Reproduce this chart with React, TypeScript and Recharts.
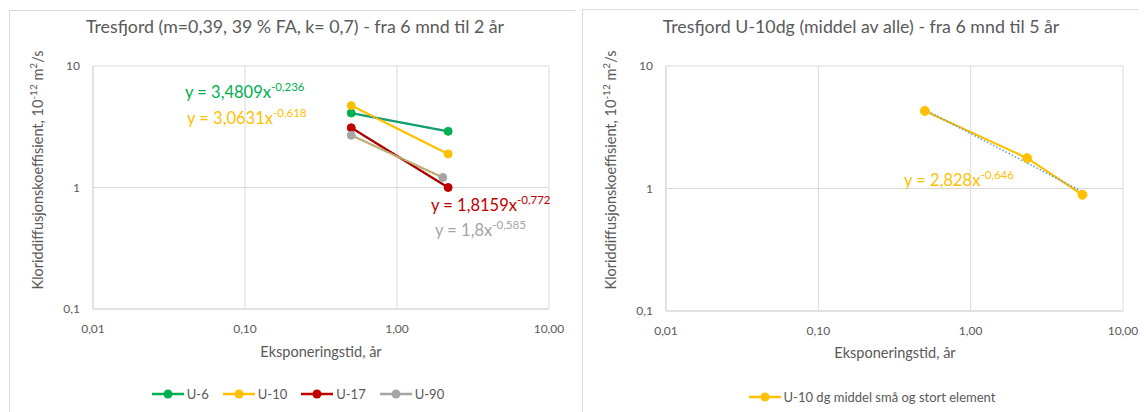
import React from "react";
import { ComposedChart, Line, XAxis, YAxis, CartesianGrid } from "recharts";

// log axes ticks
const xTicks = [0.01, 0.1, 1, 10];
const yTicks = [0.1, 1, 10];

// left chart: 6 mnd til 2 år
const u6 = [
  { x: 0.5, y: 4.1 },
  { x: 2.17, y: 2.9 },
];
const u10 = [
  { x: 0.5, y: 4.72 },
  { x: 2.17, y: 1.89 },
];
const u17 = [
  { x: 0.5, y: 3.1 },
  { x: 2.17, y: 1.0 },
];
const u90 = [
  { x: 0.5, y: 2.69 },
  { x: 2.0, y: 1.21 },
];

// right chart: middel av alle, 6 mnd til 5 år
const u10Mean = [
  { x: 0.5, y: 4.3 },
  { x: 2.35, y: 1.77 },
  { x: 5.42, y: 0.89 },
];
const u10MeanTrend = [
  { x: 0.5, y: 4.4 },
  { x: 5.42, y: 0.94 },
];

const FONT = "Lato, 'Open Sans', sans-serif";
const TEXT = "#595959";
const GRID = "#d9d9d9";

const leftSeries = [
  { name: "U-6", data: u6, color: "#00B050", trend: "#4472C4" },
  { name: "U-10", data: u10, color: "#FFC000", trend: "#FFC000" },
  { name: "U-17", data: u17, color: "#C00000", trend: "#7a0000" },
  { name: "U-90", data: u90, color: "#A5A5A5", trend: "#FFC000" },
];

const fmtX = (v: number) => v.toFixed(2).replace(".", ",");
const fmtY = (v: number) => String(v).replace(".", ",");

const tickStyle = { fontSize: 12, fill: TEXT, fontFamily: FONT };

function Axes() {
  return (
    <>
      <CartesianGrid stroke={GRID} strokeWidth={1} />
      <XAxis
        dataKey="x"
        type="number"
        scale="log"
        domain={[0.01, 10]}
        ticks={xTicks}
        allowDataOverflow
        tickFormatter={fmtX}
        tick={tickStyle}
        tickLine={false}
        tickSize={0}
        tickMargin={15}
        axisLine={{ stroke: GRID }}
        height={101}
      />
      <YAxis
        dataKey="y"
        type="number"
        scale="log"
        domain={[0.1, 10]}
        ticks={yTicks}
        allowDataOverflow
        tickFormatter={fmtY}
        tick={tickStyle}
        tickLine={false}
        tickSize={0}
        tickMargin={13}
        axisLine={{ stroke: GRID }}
        width={84}
      />
    </>
  );
}

function Equation({ x, y, color, base, exp }: { x: number; y: number; color: string; base: string; exp: string }) {
  return (
    <text x={x} y={y} fill={color} fontSize={16.5} fontFamily={FONT}>
      {base}
      <tspan dy={-7} fontSize={11.5}>
        {exp}
      </tspan>
    </text>
  );
}

function YLabel({ x, y }: { x: number; y: number }) {
  return (
    <text
      transform={`translate(${x},${y}) rotate(-90)`}
      textAnchor="middle"
      fill={TEXT}
      fontSize={14.5}
      fontFamily={FONT}
    >
      Kloriddiffusjonskoeffisient, 10
      <tspan dy={-6} fontSize={10}>
        -12
      </tspan>
      <tspan dy={6}> m</tspan>
      <tspan dy={-6} fontSize={10}>
        2
      </tspan>
      <tspan dy={6}>/s</tspan>
    </text>
  );
}

function LegendItem({ name, color }: { name: string; color: string }) {
  return (
    <div style={{ display: "flex", alignItems: "center", gap: 3 }}>
      <svg width={32} height={12}>
        <line x1={0} y1={6} x2={32} y2={6} stroke={color} strokeWidth={2.5} />
        <circle cx={16} cy={6} r={4.5} fill={color} />
      </svg>
      <span>{name}</span>
    </div>
  );
}

const legendStyle: React.CSSProperties = {
  position: "absolute",
  left: 0,
  width: "100%",
  display: "flex",
  justifyContent: "center",
  gap: 14,
  fontFamily: FONT,
  fontSize: 13,
  color: TEXT,
};

function LeftChart() {
  return (
    <div
      style={{
        position: "absolute",
        left: 1,
        top: 2,
        width: 566,
        height: 402,
        borderLeft: `1px solid ${GRID}`,
        borderTop: `1px solid ${GRID}`,
        boxSizing: "border-box",
      }}
    >
      <div style={{ position: "absolute", left: -1, top: -1 }}>
        <ComposedChart width={566} height={400} margin={{ top: 56, right: 26, left: 0, bottom: 0 }}>
          {Axes()}
          {leftSeries.map((s) => (
            <Line
              key={s.name}
              data={s.data}
              dataKey="y"
              name={s.name}
              stroke={s.color}
              strokeWidth={2.25}
              dot={{ r: 4, fill: s.color, stroke: s.color, strokeWidth: 1 }}
              isAnimationActive={false}
            />
          ))}
          {leftSeries.map((s) => (
            <Line
              key={s.name + "-trend"}
              data={s.data}
              dataKey="y"
              stroke={s.trend}
              strokeWidth={1.5}
              strokeDasharray="1.5 2"
              dot={false}
              legendType="none"
              isAnimationActive={false}
            />
          ))}
        </ComposedChart>
        <svg width={566} height={400} style={{ position: "absolute", left: 0, top: 0, pointerEvents: "none" }}>
          <text x={286} y={23} textAnchor="middle" fill={TEXT} fontSize={17.8} fontFamily={FONT}>
            Tresfjord (m=0,39, 39 % FA, k= 0,7) - fra 6 mnd til 2 år
          </text>
          <YLabel x={34} y={160} />
          <text x={312} y={347} textAnchor="middle" fill={TEXT} fontSize={14.5} fontFamily={FONT}>
            Eksponeringstid, år
          </text>
          <Equation x={176} y={88} color="#00B050" base="y = 3,4809x" exp="-0,236" />
          <Equation x={178} y={114} color="#FFC000" base="y = 3,0631x" exp="-0,618" />
          <Equation x={422} y={201} color="#C00000" base="y = 1,8159x" exp="-0,772" />
          <Equation x={426} y={226} color="#A5A5A5" base="y = 1,8x" exp="-0,585" />
        </svg>
        <div style={{ ...legendStyle, top: 376, paddingLeft: 12, boxSizing: "border-box" }}>
          {leftSeries.map((s) => (
            <LegendItem key={s.name} name={s.name} color={s.color} />
          ))}
        </div>
      </div>
    </div>
  );
}

function RightChart() {
  return (
    <div
      style={{
        position: "absolute",
        left: 574,
        top: 1,
        width: 564,
        height: 403,
        borderLeft: `1px solid ${GRID}`,
        borderTop: `1px solid ${GRID}`,
        boxSizing: "border-box",
      }}
    >
      <div style={{ position: "absolute", left: -1, top: -1 }}>
        <ComposedChart width={564} height={403} margin={{ top: 57, right: 23, left: 0, bottom: 0 }}>
          {Axes()}
          <Line
            data={u10Mean}
            dataKey="y"
            name="U-10 dg middel små og stort element"
            stroke="#FFC000"
            strokeWidth={2.25}
            dot={{ r: 4.5, fill: "#FFC000", stroke: "#FFC000", strokeWidth: 1 }}
            isAnimationActive={false}
          />
          <Line
            data={u10MeanTrend}
            dataKey="y"
            stroke="#5B9BD5"
            strokeWidth={1.5}
            strokeDasharray="1.5 2"
            dot={false}
            legendType="none"
            isAnimationActive={false}
          />
        </ComposedChart>
        <svg width={564} height={403} style={{ position: "absolute", left: 0, top: 0, pointerEvents: "none" }}>
          <text x={279} y={24} textAnchor="middle" fill={TEXT} fontSize={17.8} fontFamily={FONT}>
            Tresfjord U-10dg (middel av alle) - fra 6 mnd til 5 år
          </text>
          <YLabel x={34} y={161} />
          <text x={313} y={349} textAnchor="middle" fill={TEXT} fontSize={14.5} fontFamily={FONT}>
            Eksponeringstid, år
          </text>
          <Equation x={322} y={177} color="#FFC000" base="y = 2,828x" exp="-0,646" />
        </svg>
        <div style={{ ...legendStyle, top: 380, paddingLeft: 16, boxSizing: "border-box" }}>
          <LegendItem name="U-10 dg middel små og stort element" color="#FFC000" />
        </div>
      </div>
    </div>
  );
}

export default function App() {
  return (
    <div style={{ position: "relative", width: 1138, height: 404, background: "#fff" }}>
      <LeftChart />
      <RightChart />
    </div>
  );
}
